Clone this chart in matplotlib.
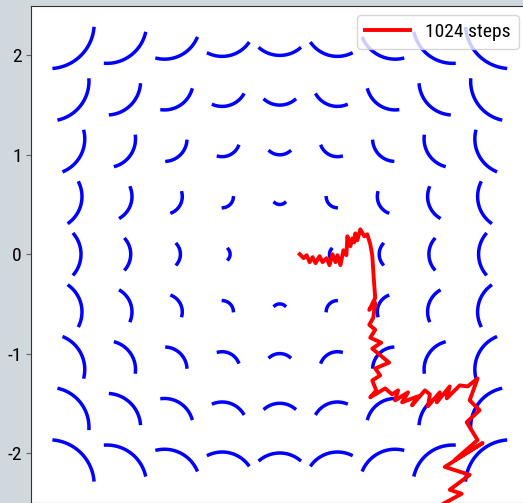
import numpy as np
import matplotlib.pyplot as plt

plt.rcParams['font.family'] = ['Roboto Condensed', 'Liberation Sans Narrow', 'DejaVu Sans']
plt.rcParams['axes.unicode_minus'] = False

# grid of sample points for the arc field
grid_x = [-2.0, -1.5, -1.0, -0.5, 0.0, 0.5, 1.0, 1.5, 2.0]
grid_y = [-2.0, -1.5, -1.0, -0.5, 0.0, 0.5, 1.0, 1.5, 2.0]
chord_frac = 0.2          # arc chord length relative to distance from origin
arc_angle = 1.35          # angular extent of each arc (rad)

# random walk
walk_x = [0.20, 0.24, 0.27, 0.30, 0.33, 0.36, 0.40, 0.43, 0.47, 0.50,
          0.53, 0.56, 0.58, 0.61, 0.64, 0.67, 0.68, 0.71, 0.73, 0.75,
          0.76, 0.78, 0.81, 0.85, 0.88, 0.91, 0.93, 0.94, 0.95, 0.96,
          0.90, 0.96, 0.94, 0.90, 0.96, 0.91, 1.02, 0.93, 1.10, 0.96,
          1.01, 0.93, 0.97, 0.91, 1.06, 1.13, 1.19, 1.16, 1.29, 1.23,
          1.39, 1.33, 1.46, 1.51, 1.49, 1.61, 1.58, 1.71, 1.68, 1.81,
          1.89, 1.99, 1.91, 2.01, 1.88, 1.99, 1.76, 2.04, 1.66, 1.91,
          1.71, 1.83, 1.61]
walk_y = [0.00, -0.04, -0.01, -0.08, -0.03, -0.09, -0.02, -0.08, -0.04, -0.11,
          0.00, -0.08, -0.01, -0.11, 0.04, -0.01, 0.18, 0.08, 0.16, 0.12,
          0.21, 0.14, 0.25, 0.18, 0.20, 0.10, -0.01, -0.16, -0.31, -0.44,
          -0.56, -0.49, -0.64, -0.71, -0.76, -0.84, -0.89, -0.95, -1.09, -1.15,
          -1.22, -1.27, -1.37, -1.44, -1.35, -1.41, -1.37, -1.47, -1.39, -1.49,
          -1.43, -1.52, -1.37, -1.41, -1.53, -1.39, -1.49, -1.33, -1.45, -1.32,
          -1.33, -1.25, -1.47, -1.57, -1.69, -1.87, -2.07, -1.90, -2.14, -2.22,
          -2.37, -2.41, -2.53]

fig = plt.figure(figsize=(5.23, 5.03), dpi=100, facecolor='#cfd8dc')
ax = fig.add_axes([31.3 / 523, 0.3 / 503, 497 / 523, 497 / 503])

for gx in grid_x:
    for gy in grid_y:
        r = np.hypot(gx, gy)
        if r == 0:
            continue
        ux, uy = gx / r, gy / r
        rad = chord_frac * r / (2 * np.sin(arc_angle / 2))
        cx, cy = gx + rad * ux, gy + rad * uy
        t0 = np.arctan2(-uy, -ux)
        t = np.linspace(t0 - arc_angle / 2, t0 + arc_angle / 2, 40)
        ax.plot(cx + rad * np.cos(t), cy + rad * np.sin(t), color='blue', lw=2.5)

ax.plot(walk_x, walk_y, color='red', lw=2.8, label='1024 steps')

ax.set_xlim(-2.5, 2.5)
ax.set_ylim(-2.5, 2.5)
ax.set_yticks([-2, -1, 0, 1, 2])
ax.tick_params(labelsize=14, length=3.5, color='#666666')
ax.tick_params(axis='x', labelbottom=False)
for s in ax.spines.values():
    s.set_color('#333333')
ax.legend(loc='upper right', fontsize=14, handlelength=2.3)

fig.savefig('out.png', dpi=100)
